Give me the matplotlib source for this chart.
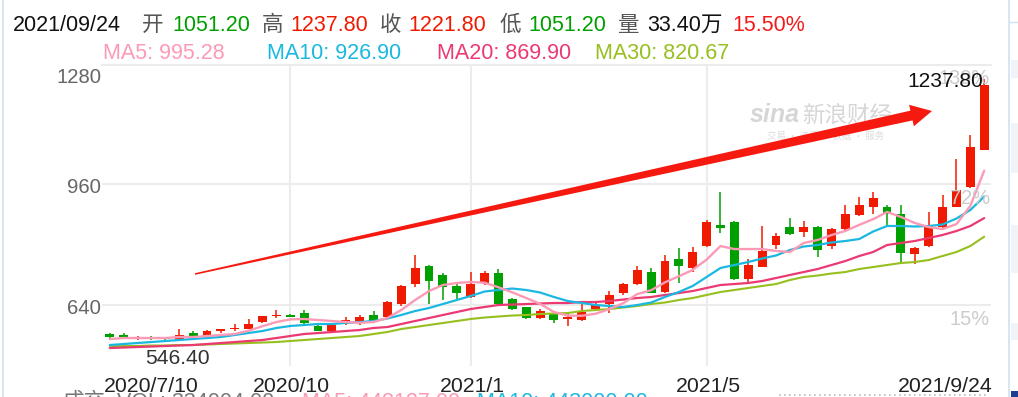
import numpy as np
import matplotlib
matplotlib.use("Agg")
import matplotlib.pyplot as plt
from matplotlib.patches import Polygon, Rectangle
from matplotlib.lines import Line2D
import matplotlib.transforms as mtrans

plt.rcParams['font.family'] = ['Liberation Sans', 'Noto Sans CJK SC', 'DejaVu Sans']

# ---------------- data (weekly candles 2020/7/10 .. 2021/9/24) ----------------
opens = [563.3, 559.8, 550.9, 556.2, 550.9, 547.4, 565.0, 554.5, 572.1, 575.7,
         577.4, 595.0, 610.9, 612.7, 619.7, 584.5, 572.1, 595.0, 595.0, 612.7,
         607.4, 642.6, 695.5, 743.2, 718.5, 690.3, 662.0, 697.3, 723.8, 656.7,
         633.9, 605.6, 618.0, 602.1, 600.3, 628.6, 642.6, 670.9, 695.5, 728.2,
         674.4, 760.8, 737.0, 796.1, 851.6, 860.4, 708.8, 741.4, 798.7, 845.5,
         834.0, 847.2, 796.1, 841.8, 877.3, 900.0, 900.0, 880.7, 774.9, 796.1,
         847.2, 900.0, 952.9, 1051.2]
highs = [565.0, 565.0, 558.0, 558.0, 552.0, 575.7, 570.3, 573.0, 576.5, 589.7,
         602.1, 612.0, 626.8, 616.2, 626.8, 591.5, 587.0, 609.1, 612.7, 623.3,
         651.4, 692.0, 772.3, 745.0, 725.5, 701.6, 727.3, 729.1, 734.4, 658.0,
         635.0, 628.6, 620.0, 619.7, 651.4, 649.7, 676.2, 697.0, 743.2, 737.0,
         772.3, 789.9, 794.3, 865.0, 939.8, 862.0, 760.8, 849.0, 829.6, 870.1,
         863.0, 849.0, 843.0, 903.7, 924.9, 938.9, 905.3, 903.7, 794.3, 886.0,
         930.2, 1025.4, 1089.7, 1237.8]
lows = [551.0, 551.0, 547.4, 548.0, 547.4, 546.4, 555.0, 554.0, 565.0, 572.1,
        575.7, 591.5, 605.6, 607.4, 588.0, 570.3, 571.0, 588.0, 588.0, 596.8,
        602.1, 637.4, 688.5, 642.6, 653.2, 654.9, 658.5, 692.0, 640.0, 626.8,
        602.1, 602.1, 593.3, 584.5, 599.0, 625.0, 618.0, 667.4, 694.0, 671.0,
        672.0, 699.0, 728.2, 794.0, 831.3, 706.0, 695.5, 739.6, 787.3, 826.0,
        820.7, 767.8, 787.3, 836.5, 876.0, 880.7, 850.8, 753.7, 748.4, 794.3,
        845.0, 898.0, 950.0, 1051.2]
closes = [556.2, 554.5, 556.2, 549.2, 549.5, 561.5, 556.2, 572.1, 575.7, 579.2,
          589.7, 610.9, 612.7, 609.1, 591.5, 572.1, 586.2, 600.3, 607.4, 598.6,
          647.9, 690.3, 737.0, 704.3, 686.7, 672.6, 695.5, 723.8, 642.6, 628.6,
          605.6, 625.0, 600.3, 607.4, 621.5, 639.1, 665.6, 695.5, 732.6, 672.6,
          757.3, 743.2, 780.2, 860.4, 842.8, 707.9, 746.6, 783.7, 822.5, 827.8,
          847.2, 785.5, 841.8, 880.7, 903.7, 923.0, 880.7, 776.7, 790.8, 851.8,
          900.0, 945.0, 1057.8, 1221.8]

ma5 = [550.1, 552.7, 552.7, 552.7, 552.7, 555.4, 555.4, 558.0, 560.7, 563.3,
       572.0, 584.0, 595.0, 602.0, 603.0, 600.3, 597.7, 595.0, 593.0, 595.0,
       605.6, 626.8, 653.2, 677.0, 692.9, 698.2, 700.8, 699.0, 687.0, 673.5,
       658.5, 643.0, 621.5, 612.0, 611.5, 617.0, 629.0, 645.0, 669.0, 679.0,
       700.0, 716.0, 733.0, 760.0, 796.0, 788.0, 788.0, 788.0, 783.0, 780.0,
       804.0, 812.0, 825.0, 836.0, 852.0, 867.0, 886.0, 873.0, 857.0, 846.0,
       841.0, 854.0, 902.0, 995.28]
ma10 = [534.2, 536.8, 539.5, 542.1, 544.8, 547.4, 550.1, 552.7, 555.4, 560.7,
        566.0, 571.2, 579.2, 584.5, 587.1, 589.7, 589.7, 592.7, 595.0, 597.7,
        604.3, 613.6, 624.1, 632.1, 642.6, 653.2, 663.8, 675.7, 679.7, 683.6,
        679.7, 673.1, 661.2, 650.6, 645.3, 640.0, 637.4, 634.7, 640.0, 646.6,
        661.2, 674.4, 690.3, 714.1, 737.9, 745.8, 753.7, 763.0, 771.0, 785.5,
        794.7, 798.7, 805.3, 809.3, 814.6, 834.4, 849.0, 849.0, 847.6, 849.0,
        852.9, 868.8, 891.3, 926.9]
ma20 = [526.3, 527.6, 528.9, 530.2, 531.6, 532.9, 534.2, 536.8, 539.5, 542.1,
        544.8, 547.4, 552.7, 558.0, 563.3, 565.9, 568.6, 571.2, 573.9, 579.2,
        581.8, 589.7, 597.7, 605.6, 613.6, 621.5, 629.4, 634.7, 640.0, 641.3,
        642.6, 644.0, 645.3, 645.3, 647.9, 647.9, 650.6, 654.5, 658.5, 661.2,
        666.5, 671.7, 677.0, 685.0, 692.9, 695.5, 698.2, 703.5, 711.4, 719.4,
        727.3, 735.2, 745.8, 756.4, 769.6, 780.2, 798.7, 804.0, 809.3, 817.2,
        825.2, 835.7, 849.0, 869.9]
ma30 = [531.6, 531.6, 531.6, 532.9, 532.9, 534.2, 534.2, 535.5, 536.8, 538.2,
        539.5, 540.8, 542.1, 544.8, 547.4, 550.1, 552.7, 555.4, 558.0, 563.3,
        568.6, 576.5, 581.8, 587.1, 592.4, 597.7, 603.0, 606.9, 609.6, 612.2,
        613.6, 616.2, 617.5, 618.8, 624.1, 626.8, 629.4, 633.4, 637.4, 642.6,
        646.6, 653.2, 658.5, 666.5, 674.4, 679.7, 685.0, 690.3, 695.5, 706.1,
        714.1, 718.0, 723.3, 727.3, 735.2, 740.5, 745.8, 751.1, 753.7, 759.0,
        769.6, 780.2, 796.1, 820.67]

tick_index = [0, 13, 26, 43, 63]
tick_labels = ['2020/7/10', '2020/10', '2021/1', '2021/5', '2021/9/24']
y_levels = [1280, 960, 640]
y_labels = ['1280', '960', '640']
pct_labels = ['130%', '72%', '15%']

header_date = '2021/09/24'
header_items = [('开', '1051.20', 'g'), ('高', '1237.80', 'r'), ('收', '1221.80', 'r'),
                ('低', '1051.20', 'g')]
header_vol = '33.40万'
header_chg = '15.50%'
ma_names = ['MA5', 'MA10', 'MA20', 'MA30']
ma_last = ['995.28', '926.90', '869.90', '820.67']
vol_text = ['成交', 'VOL: 334004.00', 'MA5: 448127.00', 'MA10: 443000.00']

# ---------------- style ----------------
W, H = 1018, 397
UP = '#f01a00'
DOWN = '#00a000'
MA_COLORS = ['#fc9ab6', '#1ab8e0', '#eb3a72', '#97bf1e']
GRID = '#ececec'
PX = 0.72  # points per pixel

def P(x, y):
    return (x / W, 1 - y / H)

fig = plt.figure(figsize=(W / 100, H / 100), dpi=100)
fig.patch.set_facecolor('white')
ax = fig.add_axes([102 / W, (H - 366) / H, 889 / W, 301 / H])
ax.set_xlim(-0.562, 63.49)
ax.set_ylim(478.7, 1274.8)
for s in ['left', 'right', 'bottom']:
    ax.spines[s].set_visible(False)
ax.spines['top'].set_color(GRID)
ax.spines['top'].set_linewidth(1.5)
ax.set_xticks([])
ax.set_yticks([])

x = np.arange(len(opens))
o = np.array(opens); c = np.array(closes); hi = np.array(highs); lo = np.array(lows)
col = np.where(c >= o, UP, DOWN)

# grid
for v in y_levels:
    if v < ax.get_ylim()[1]:
        ax.axhline(v, color=GRID, lw=1.5, zorder=0)
for t in tick_index[1:-1]:
    ax.axvline(t, color=GRID, lw=1.5, zorder=0)

# candles
ax.vlines(x, lo, hi, colors=col, lw=1.1, zorder=2)
body_lo = np.minimum(o, c)
body_h = np.maximum(np.abs(c - o), 2.2)
ax.bar(x, body_h, bottom=body_lo, width=0.64, color=col, edgecolor='none', zorder=3)

# moving averages
for vals, cc, lw in zip([ma30, ma20, ma10, ma5], MA_COLORS[::-1], [1.5, 1.6, 1.6, 1.7]):
    ax.plot(x, vals, color=cc, lw=lw, zorder=4, solid_capstyle='round')

# y labels (left) and percentage labels (right)
bl = mtrans.blended_transform_factory(ax.transAxes, ax.transData)
ytop = ax.get_ylim()[1]
for v, lab, pct in zip(y_levels, y_labels, pct_labels):
    if v > ytop:
        ax.annotate(lab, xy=(0, 1), xycoords='axes fraction', xytext=(-0.5, -18.3 * PX),
                    textcoords='offset points', ha='right', va='baseline',
                    fontsize=14.6, color='#666666')
        ax.annotate(pct, xy=(1, 1), xycoords='axes fraction', xytext=(-1 * PX, -19.5 * PX),
                    textcoords='offset points', ha='right', va='baseline',
                    fontsize=14.4, color='#cccccc', zorder=5)
    else:
        ax.annotate(lab, xy=(0, v), xycoords=bl, xytext=(-0.5, -8.5 * PX),
                    textcoords='offset points', ha='right', va='baseline',
                    fontsize=14.6, color='#666666')
        ax.annotate(pct, xy=(1, v), xycoords=bl, xytext=(-1 * PX, -19.5 * PX),
                    textcoords='offset points', ha='right', va='baseline',
                    fontsize=14.4, color='#cccccc', zorder=5)

# x labels
xb = mtrans.blended_transform_factory(ax.transData, ax.transAxes)
for i, (t, lab) in enumerate(zip(tick_index, tick_labels)):
    if i == 0:
        ax.annotate(lab, xy=(0, 0), xycoords='axes fraction', xytext=(2 * PX, -25.5 * PX),
                    textcoords='offset points', ha='left', va='baseline', fontsize=15.3,
                    color='#222222')
    elif i == len(tick_index) - 1:
        ax.annotate(lab, xy=(1, 0), xycoords='axes fraction', xytext=(2 * PX, -25.5 * PX),
                    textcoords='offset points', ha='right', va='baseline', fontsize=15.3,
                    color='#222222')
    else:
        ax.annotate(lab, xy=(t, 0), xycoords=xb, xytext=(1.5 * PX, -25.5 * PX),
                    textcoords='offset points', ha='center', va='baseline', fontsize=15.3,
                    color='#222222')

# min / max labels
imin = int(np.argmin(lo)); imax = int(np.argmax(hi))
ax.annotate(f'{lo[imin]:.2f}', xy=(imin, lo[imin]), xytext=(-1.5 * PX, -23.6 * PX),
            textcoords='offset points', ha='center', va='baseline', fontsize=15.2,
            color='#333333', annotation_clip=False, zorder=6)
ax.annotate(f'{hi[imax]:.2f}', xy=(imax, hi[imax]), xytext=(-1 * PX, -7.7 * PX),
            textcoords='offset points', ha='right', va='baseline', fontsize=15.1,
            color='#111111', zorder=6)

# ---------------- header ----------------
FS = 15.5
fig.text(*P(13.3, 30.7), header_date, fontsize=FS, color='#111111', va='baseline')
hx = [(142, 172), (262, 290), (380, 408), (500, 528)]
for (lab, val, kind), (xl, xv) in zip(header_items, hx):
    fig.text(*P(xl, 30.7), lab, fontsize=FS, color='#555555', va='baseline',
             family=['Noto Sans CJK SC'])
    fig.text(*P(xv, 30.7), val, fontsize=FS, color=(UP if kind == 'r' else DOWN), va='baseline')
fig.text(*P(618, 30.7), '量', fontsize=FS, color='#555555', va='baseline',
         family=['Noto Sans CJK SC'])
fig.text(*P(647, 30.7), header_vol, fontsize=FS, color='#111111', va='baseline',
         family=['Liberation Sans', 'Noto Sans CJK SC'])
fig.text(*P(732, 30.7), header_chg, fontsize=FS, color='#f51a1a', va='baseline')

for name, val, cc, xp in zip(ma_names, ma_last, MA_COLORS, [103, 267, 437, 595]):
    fig.text(*P(xp, 59.3), f'{name}: {val}', fontsize=FS, color=cc, va='baseline')

# bottom (cut) volume line
for txt, cc, xp in zip(vol_text, ['#777777', '#777777', MA_COLORS[0], MA_COLORS[1]],
                       [62, 117, 302, 477]):
    fig.text(*P(xp, 391.5), txt, fontsize=FS, color=cc, va='top',
             family=['Liberation Sans', 'Noto Sans CJK SC'])
fig.add_artist(Line2D([779 / W, 987 / W], [1 - 395 / H, 1 - 395 / H], color='#bbbbbb',
                      lw=1.2, ls=(0, (1, 2)), transform=fig.transFigure))

# ---------------- watermark ----------------
fig.text(*P(750, 122), 'sina', fontsize=18, color='#d6d6d6', style='italic',
         weight='bold', va='baseline', zorder=1)
fig.text(*P(802, 122), '新浪财经', fontsize=16.2, color='#d6d6d6', va='baseline',
         family=['Noto Sans CJK SC'], zorder=1)
fig.text(*P(767, 139), '交易 · 资讯 · 数据 · 服务', fontsize=6.8, color='#dcdcdc',
         va='baseline', family=['Noto Sans CJK SC'], zorder=1)

# ---------------- red trend arrow ----------------
T = np.array([195.0, 274.0]); Tip = np.array([932.0, 111.0])
u = (Tip - T) / np.linalg.norm(Tip - T)
n = np.array([-u[1], u[0]])
B = Tip - 21 * u
pts_px = [T + 0.8 * n, B + 5.0 * n, B + 11 * n, Tip, B - 11 * n, B - 5.0 * n, T - 0.8 * n]
pts = [P(p[0], p[1]) for p in pts_px]
fig.add_artist(Polygon(pts, closed=True, facecolor='#f5190f', edgecolor='none',
                       transform=fig.transFigure, zorder=10))

# ---------------- frame decorations ----------------
fig.add_artist(Line2D([3 / W, 3 / W], [0, 1], color='#cfe2f0', lw=1.2, transform=fig.transFigure))
fig.add_artist(Line2D([1009 / W, 1009 / W], [0, 1], color='#cfe2f0', lw=1.2, transform=fig.transFigure))
fig.add_artist(Line2D([1010 / W, 1 ], [1 - 22 / H, 1 - 22 / H], color='#cfe2f0', lw=1.0,
                      transform=fig.transFigure))
for y0, y1 in [(60, 78), (123, 173), (225, 273), (323, 340)]:
    fig.add_artist(Rectangle(P(1011, y1), 7 / W, (y1 - y0) / H, facecolor='#f0f3f7',
                             edgecolor='none', transform=fig.transFigure))
fig.add_artist(Rectangle(P(1011, 397), 7 / W, 6 / H, facecolor='#1c3f91',
                         edgecolor='none', transform=fig.transFigure))

fig.savefig('out.png', dpi=100)
